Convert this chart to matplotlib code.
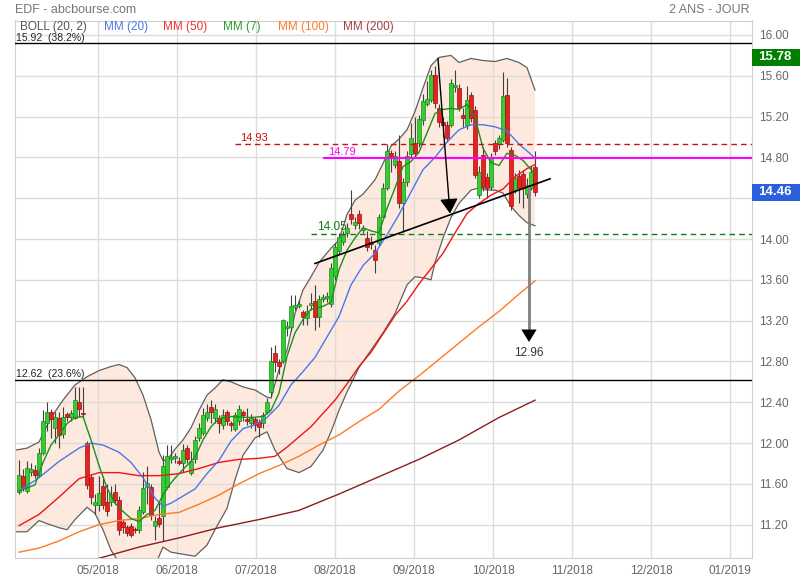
import numpy as np
import matplotlib.pyplot as plt
from matplotlib import transforms
from matplotlib.patches import Rectangle

plt.rcParams['font.family'] = ['Liberation Sans', 'DejaVu Sans']

# bougies (index de séance 0..129)
opens = [11.52, 11.68, 11.53, 11.72, 11.74, 11.69, 11.90, 12.20, 12.30, 12.15,
         12.25, 12.09, 12.28, 12.26, 12.25, 12.40, 12.29, 12.00, 11.67, 11.39,
         11.39, 11.58, 11.42, 11.42, 11.52, 11.44, 11.23, 11.18, 11.19, 11.16,
         11.15, 11.32, 11.57, 11.57, 11.19, 11.27, 11.28, 11.57, 11.84, 11.85,
         11.82, 11.80, 11.95, 11.71, 11.84, 12.05, 12.10, 12.25, 12.35, 12.25,
         12.25, 12.18, 12.30, 12.20, 12.14, 12.22, 12.30, 12.24, 12.20, 12.24,
         12.21, 12.20, 12.30, 12.50, 12.88, 12.79, 12.80, 13.13, 13.14, 13.33,
         13.34, 13.28, 13.23, 13.35, 13.39, 13.24, 13.41, 13.42, 13.36, 13.64,
         13.88, 13.97, 14.06, 14.25, 14.14, 14.25, 14.09, 14.01, 13.97, 13.89,
         13.96, 14.22, 14.50, 14.84, 14.73, 14.76, 14.35, 14.56, 14.83, 14.94,
         14.94, 15.17, 15.32, 15.36, 15.61, 15.28, 15.15, 15.12, 15.12, 15.49,
         15.48, 15.22, 15.12, 15.41, 15.26, 14.43, 14.82, 14.61, 14.51, 14.94,
         14.93, 14.97, 15.41, 14.87, 14.48, 14.62, 14.64, 14.44, 14.50, 14.71]
highs = [11.83, 11.75, 11.82, 11.80, 11.78, 11.95, 12.32, 12.40, 12.33, 12.30,
         12.30, 12.35, 12.30, 12.32, 12.55, 12.55, 12.55, 12.02, 11.70, 11.50,
         11.68, 11.68, 11.60, 11.58, 11.60, 11.48, 11.26, 11.20, 11.22, 11.18,
         11.38, 11.72, 11.77, 11.60, 11.28, 11.42, 11.88, 11.98, 11.98, 11.90,
         11.86, 11.99, 11.98, 11.92, 12.07, 12.20, 12.34, 12.38, 12.42, 12.38,
         12.27, 12.33, 12.32, 12.22, 12.30, 12.37, 12.32, 12.34, 12.28, 12.26,
         12.24, 12.30, 12.44, 12.94, 12.96, 12.82, 13.22, 13.20, 13.45, 13.45,
         13.40, 13.30, 13.35, 13.47, 13.55, 13.45, 13.46, 13.48, 13.76, 13.96,
         14.06, 14.08, 14.16, 14.48, 14.22, 14.28, 14.14, 14.08, 14.03, 13.94,
         14.25, 14.55, 14.93, 14.87, 14.86, 15.02, 14.60, 14.86, 15.14, 15.20,
         15.22, 15.42, 15.55, 15.66, 15.70, 15.32, 15.20, 15.16, 15.57, 15.66,
         15.52, 15.28, 15.50, 15.44, 15.30, 14.72, 14.90, 14.65, 14.84, 14.97,
         15.02, 15.64, 15.58, 14.90, 14.65, 14.68, 14.68, 14.60, 14.72, 14.86]
lows = [11.50, 11.53, 11.51, 11.68, 11.66, 11.67, 11.88, 12.12, 12.05, 12.00,
        11.95, 12.05, 12.22, 12.22, 12.24, 12.26, 12.25, 11.55, 11.40, 11.30,
        11.33, 11.35, 11.28, 11.38, 11.40, 11.10, 11.12, 11.09, 11.08, 11.12,
        11.12, 11.30, 11.40, 11.25, 11.05, 11.18, 11.04, 11.55, 11.80, 11.80,
        11.78, 11.72, 11.80, 11.69, 11.80, 12.02, 12.08, 12.22, 12.20, 12.20,
        12.10, 12.14, 12.18, 12.12, 12.12, 12.18, 12.22, 12.18, 12.15, 12.12,
        12.06, 12.15, 12.28, 12.45, 12.70, 12.68, 12.78, 13.05, 13.10, 13.30,
        13.32, 13.16, 13.16, 13.30, 13.11, 13.14, 13.38, 13.38, 13.33, 13.60,
        13.85, 13.94, 14.02, 14.15, 14.10, 14.10, 14.06, 13.88, 13.90, 13.67,
        13.93, 14.20, 14.48, 14.66, 14.70, 14.30, 14.07, 14.52, 14.80, 14.80,
        14.90, 15.12, 15.30, 15.34, 15.28, 15.10, 15.00, 14.95, 15.10, 15.44,
        15.25, 15.10, 15.08, 15.15, 14.60, 14.40, 14.47, 14.40, 14.48, 14.82,
        14.88, 14.95, 14.90, 14.28, 14.45, 14.35, 14.30, 14.40, 14.48, 14.42]
closes = [11.69, 11.57, 11.76, 11.75, 11.69, 11.90, 12.22, 12.30, 12.24, 12.26,
          12.08, 12.26, 12.26, 12.29, 12.42, 12.33, 12.28, 11.59, 11.47, 11.42,
          11.51, 11.39, 11.33, 11.50, 11.44, 11.15, 11.18, 11.12, 11.10, 11.15,
          11.34, 11.56, 11.61, 11.29, 11.24, 11.21, 11.77, 11.87, 11.86, 11.87,
          11.80, 11.93, 11.84, 11.82, 12.03, 12.15, 12.27, 12.30, 12.30, 12.33,
          12.20, 12.27, 12.22, 12.18, 12.27, 12.33, 12.27, 12.22, 12.25, 12.18,
          12.16, 12.27, 12.40, 12.80, 12.79, 12.76, 13.21, 13.15, 13.34, 13.35,
          13.36, 13.24, 13.29, 13.37, 13.24, 13.41, 13.43, 13.44, 13.72, 13.92,
          14.02, 14.04, 14.11, 14.20, 14.17, 14.16, 14.11, 13.92, 13.95, 13.79,
          14.22, 14.50, 14.86, 14.81, 14.81, 14.35, 14.56, 14.81, 14.99, 14.84,
          15.18, 15.35, 15.37, 15.61, 15.33, 15.15, 15.12, 14.99, 15.53, 15.51,
          15.28, 15.19, 15.36, 15.19, 14.63, 14.66, 14.51, 14.50, 14.79, 14.86,
          14.99, 15.40, 14.94, 14.32, 14.60, 14.50, 14.50, 14.53, 14.66, 14.46]

# moyennes mobiles
mm7_x = [0, 4, 6, 8, 10, 12, 14, 16, 18, 20, 22, 24, 26, 28, 30, 32, 34, 36, 38, 40,
         42, 44, 46, 48, 50, 53, 58, 61, 63, 65, 67, 69, 71, 73, 76, 78, 80, 82, 84, 86,
         88, 90, 92, 94, 96, 98, 100, 102, 104, 106, 108, 110, 112, 114, 116, 118, 120,
         122, 124, 126, 128, 129]
mm7_y = [11.53, 11.59, 11.81, 11.98, 12.08, 12.19, 12.25, 12.26, 12.03, 11.78,
         11.56, 11.41, 11.33, 11.26, 11.23, 11.30, 11.34, 11.49, 11.61, 11.70,
         11.78, 11.86, 12.03, 12.16, 12.24, 12.26, 12.25, 12.26, 12.32, 12.49,
         12.85, 13.08, 13.21, 13.31, 13.34, 13.38, 13.70, 13.89, 14.01, 14.11,
         14.08, 14.06, 14.30, 14.50, 14.71, 14.76, 14.85, 15.04, 15.23, 15.27,
         15.28, 15.27, 15.32, 15.19, 14.89, 14.75, 14.72, 14.84, 14.82, 14.77,
         14.68, 14.65]
mm20_x = [0, 5, 10, 15, 18, 21, 25, 28, 31, 34, 36, 38, 41, 44, 47, 50, 53, 56, 59, 62,
          65, 68, 71, 74, 77, 80, 83, 86, 89, 92, 95, 98, 101, 104, 107, 110, 113, 116,
          119, 122, 125, 128, 129]
mm20_y = [11.53, 11.66, 11.82, 11.95, 12.00, 11.98, 11.91, 11.81, 11.66, 11.46,
          11.38, 11.41, 11.48, 11.55, 11.70, 11.83, 12.02, 12.14, 12.18, 12.25,
          12.37, 12.57, 12.70, 12.84, 13.04, 13.24, 13.55, 13.74, 13.86, 14.04,
          14.24, 14.46, 14.68, 14.80, 14.95, 15.07, 15.12, 15.12, 15.10, 15.06,
          14.93, 14.83, 14.79]
mm50_x = [0, 5, 10, 15, 20, 25, 30, 35, 40, 45, 50, 55, 60, 64, 67, 70, 73, 76, 79, 82,
          85, 88, 91, 94, 97, 100, 103, 106, 109, 112, 115, 118, 121, 124, 127, 129]
mm50_y = [11.19, 11.30, 11.47, 11.65, 11.71, 11.71, 11.68, 11.68, 11.70, 11.75,
          11.81, 11.84, 11.85, 11.87, 11.96, 12.06, 12.16, 12.29, 12.42, 12.58,
          12.75, 12.89, 13.07, 13.25, 13.39, 13.56, 13.71, 13.86, 14.06, 14.25,
          14.35, 14.43, 14.49, 14.61, 14.69, 14.73]
mm100_x = [0, 5, 10, 15, 20, 25, 30, 35, 40, 45, 50, 55, 60, 65, 70, 75, 80, 85, 90,
           95, 100, 105, 110, 115, 120, 125, 129]
mm100_y = [10.93, 10.97, 11.04, 11.13, 11.20, 11.24, 11.26, 11.30, 11.32, 11.40,
           11.49, 11.60, 11.70, 11.78, 11.87, 11.98, 12.08, 12.21, 12.33, 12.51,
           12.66, 12.82, 12.98, 13.14, 13.29, 13.46, 13.59]
mm200_x = [20, 30, 40, 50, 60, 70, 80, 90, 100, 110, 120, 129]
mm200_y = [10.87, 10.98, 11.07, 11.17, 11.25, 11.34, 11.50, 11.67, 11.84, 12.03, 12.25, 12.42]

# bandes de Bollinger (20, 2)
boll_up_x = [-1, 2, 5, 8, 11, 14, 17, 20, 23, 25, 27, 29, 31, 33, 35, 36, 37, 39, 41, 43,
             45, 47, 49, 51, 53, 56, 59, 62, 63, 65, 67, 69, 71, 73, 75, 78, 80, 82, 84, 86,
             89, 91, 93, 95, 97, 99, 101, 103, 105, 108, 110, 113, 116, 119, 122, 125, 127, 129]
boll_up_y = [11.93, 11.95, 12.01, 12.25, 12.42, 12.57, 12.65, 12.71, 12.75, 12.77,
             12.74, 12.64, 12.47, 12.23, 11.91, 11.83, 11.83, 11.94, 12.03, 12.15,
             12.32, 12.47, 12.54, 12.62, 12.60, 12.55, 12.52, 12.45, 12.44, 12.72,
             12.91, 13.27, 13.50, 13.63, 13.77, 13.91, 13.99, 14.24, 14.38, 14.44,
             14.58, 14.74, 14.91, 14.98, 15.07, 15.25, 15.48, 15.70, 15.78, 15.80,
             15.73, 15.77, 15.75, 15.74, 15.77, 15.73, 15.68, 15.46]
boll_low_x = [-1, 2, 5, 7, 10, 12, 14, 17, 19, 21, 23, 25, 27, 30, 33, 35, 36, 38, 41, 44,
              47, 49, 52, 54, 56, 59, 62, 64, 67, 70, 73, 76, 78, 80, 82, 85, 88, 91, 94, 97,
              99, 101, 103, 104, 106, 108, 110, 113, 115, 117, 119, 121, 123, 125, 127, 129]
boll_low_y = [11.13, 11.13, 11.24, 11.21, 11.17, 11.15, 11.25, 11.37, 11.31, 11.15,
              10.95, 10.83, 10.66, 10.61, 10.71, 10.89, 10.98, 10.93, 10.91, 10.89,
              11.00, 11.15, 11.36, 11.64, 11.88, 12.05, 12.11, 11.93, 11.75, 11.71,
              11.77, 11.93, 12.11, 12.32, 12.50, 12.74, 12.91, 13.08, 13.27, 13.55,
              13.63, 13.62, 13.60, 13.77, 14.01, 14.21, 14.35, 14.48, 14.50, 14.48,
              14.48, 14.45, 14.32, 14.23, 14.16, 14.13]

# niveaux et tracés
fibo_levels = [15.92, 12.62]
fibo_labels = ['15.92  (38.2%)', '12.62  (23.6%)']
trend_x = [74, 132.75]
trend_y = [13.76, 14.59]
arrow1_from = (104.75, 15.77)
arrow1_to = (107.75, 14.25)
target_x = 127.5
target_from = 14.50
target_to = 12.99
target_value = 12.96

month_labels = ['05/2018', '06/2018', '07/2018', '08/2018', '09/2018',
                '10/2018', '11/2018', '12/2018', '01/2019']
month_pos = 19.75 * np.arange(1, 10)
yticks = np.arange(11.2, 16.01, 0.4)

opens, highs, lows, closes = map(np.array, (opens, highs, lows, closes))
idx = np.arange(len(closes))

fig = plt.figure(figsize=(8, 5.8), dpi=100)
ax = fig.add_axes([15 / 800, 22 / 580, 737 / 800, 537.5 / 580])

# Bollinger : zone + bords
ax.fill(boll_up_x + boll_low_x[::-1], boll_up_y + boll_low_y[::-1],
        color='#fde9dd', lw=0, zorder=0.3)
ax.plot(boll_up_x, boll_up_y, color='#606060', lw=0.9, zorder=2)
ax.plot(boll_low_x, boll_low_y, color='#606060', lw=0.9, zorder=2)

# chandeliers
up = closes >= opens
body = np.maximum(np.abs(closes - opens), 0.012)
ax.vlines(idx, lows, highs, color='#404040', lw=0.8, zorder=3)
ax.bar(idx[up], body[up], bottom=opens[up], width=0.8,
       color='#33cc33', edgecolor='#1d8a1d', lw=0.5, zorder=3.5)
ax.bar(idx[~up], body[~up], bottom=closes[~up], width=0.8,
       color='#e52222', edgecolor='#a01212', lw=0.5, zorder=3.5)

# moyennes mobiles
ax.plot(mm200_x, mm200_y, color='#8b1e1e', lw=1, zorder=4)
ax.plot(mm100_x, mm100_y, color='#ff7a22', lw=1, zorder=4)
ax.plot(mm50_x, mm50_y, color='#ee1515', lw=1, zorder=4)
ax.plot(mm20_x, mm20_y, color='#4a78ec', lw=1, zorder=4)
ax.plot(mm7_x, mm7_y, color='#1e8c1e', lw=1, zorder=4)

# niveaux de Fibonacci
for lvl, lab in zip(fibo_levels, fibo_labels):
    ax.axhline(lvl, color='black', lw=1, zorder=5)
    ax.text(-0.7, lvl + 0.003, lab, fontsize=7.5, color='#222222', va='bottom', zorder=6)

# lignes horizontales tracées
ax.hlines(14.93, 54, 184, colors='#cc1111', linestyles=(0, (4, 3)), lw=1, zorder=5)
ax.text(55.3, 14.94, '14.93', fontsize=8, color='#cc1111', va='bottom', zorder=6)
ax.hlines(14.79, 76, 184, colors='#ff00ff', lw=1.5, zorder=5)
ax.text(77.3, 14.80, '14.79', fontsize=8, color='#ff00ff', va='bottom', zorder=6)
ax.hlines(14.05, 73, 184, colors='#127a12', linestyles=(0, (4, 3)), lw=1, zorder=5)
ax.text(74.5, 14.06, '14.05', fontsize=8.5, color='#127a12', va='bottom', zorder=6)

# oblique + flèches
ax.plot(trend_x, trend_y, color='black', lw=1.2, zorder=5)
ax.annotate('', xy=arrow1_to, xytext=arrow1_from, zorder=6,
            arrowprops=dict(arrowstyle='-|>,head_length=0.9,head_width=0.55',
                            color='black', lw=1, shrinkA=0, shrinkB=0, mutation_scale=10))
ax.plot([target_x, target_x], [target_from, target_to + 0.06], color='#808080', lw=2, zorder=5)
ax.annotate('', xy=(target_x, target_to), xytext=(target_x, target_to + 0.2), zorder=6,
            arrowprops=dict(arrowstyle='-|>,head_length=0.9,head_width=0.55',
                            fc='black', ec='black', lw=0.01, shrinkA=0, shrinkB=0,
                            mutation_scale=10))
ax.text(target_x, target_value - 0.02, '%.2f' % target_value, fontsize=8.5,
        color='#333333', ha='center', va='top', zorder=6)

# étiquettes de prix à droite
trans = transforms.blended_transform_factory(ax.transAxes, ax.transData)
for val, col in [(15.78, '#008000'), (closes[-1], '#2b5fdc')]:
    ax.add_patch(Rectangle((1.0, val - 0.083), 48 / 737, 0.166, transform=trans,
                           fc=col, ec='none', clip_on=False, zorder=10))
    ax.text(1.0 + 6 / 737, val, '%.2f' % val, transform=trans, color='white',
            fontsize=9.5, fontweight='bold', va='center', ha='left', zorder=11)

# légende
legend = [('BOLL (20, 2)', '#555555', 20), ('MM (20)', '#4a78ec', 104),
          ('MM (50)', '#ee3333', 163), ('MM (7)', '#2a9a2a', 223),
          ('MM (100)', '#ff7a22', 278), ('MM (200)', '#a04040', 343)]
for txt, col, px in legend:
    ax.text((px - 15) / 737, 0.988, txt, transform=ax.transAxes, color=col,
            fontsize=8.5, va='center', ha='left', zorder=6)

# axes ; l'étiquette 14.40 est cachée par la case du dernier cours
ax.set_xlim(-1, 183.25)
ax.set_ylim(10.873, 16.142)
ax.yaxis.tick_right()
ax.set_yticks(yticks)
ax.set_yticklabels(['' if abs(v - 14.4) < 0.01 else '%.2f' % v for v in yticks])
ax.set_xticks(month_pos)
ax.set_xticklabels(month_labels)
ax.tick_params(length=0, labelsize=8.5, labelcolor='#666666')
ax.tick_params(axis='y', pad=5)
ax.tick_params(axis='x', pad=5)
ax.grid(color='#dcdcdc', lw=1)
ax.set_axisbelow(True)
for s in ax.spines.values():
    s.set_color('#d0d0d0')

fig.text(15 / 800, 1 - 10 / 580, 'EDF - abcbourse.com', fontsize=9, color='#777777', va='center')
fig.text(750 / 800, 1 - 10 / 580, '2 ANS - JOUR', fontsize=9, color='#777777', va='center', ha='right')

plt.savefig('out.png', dpi=100)
